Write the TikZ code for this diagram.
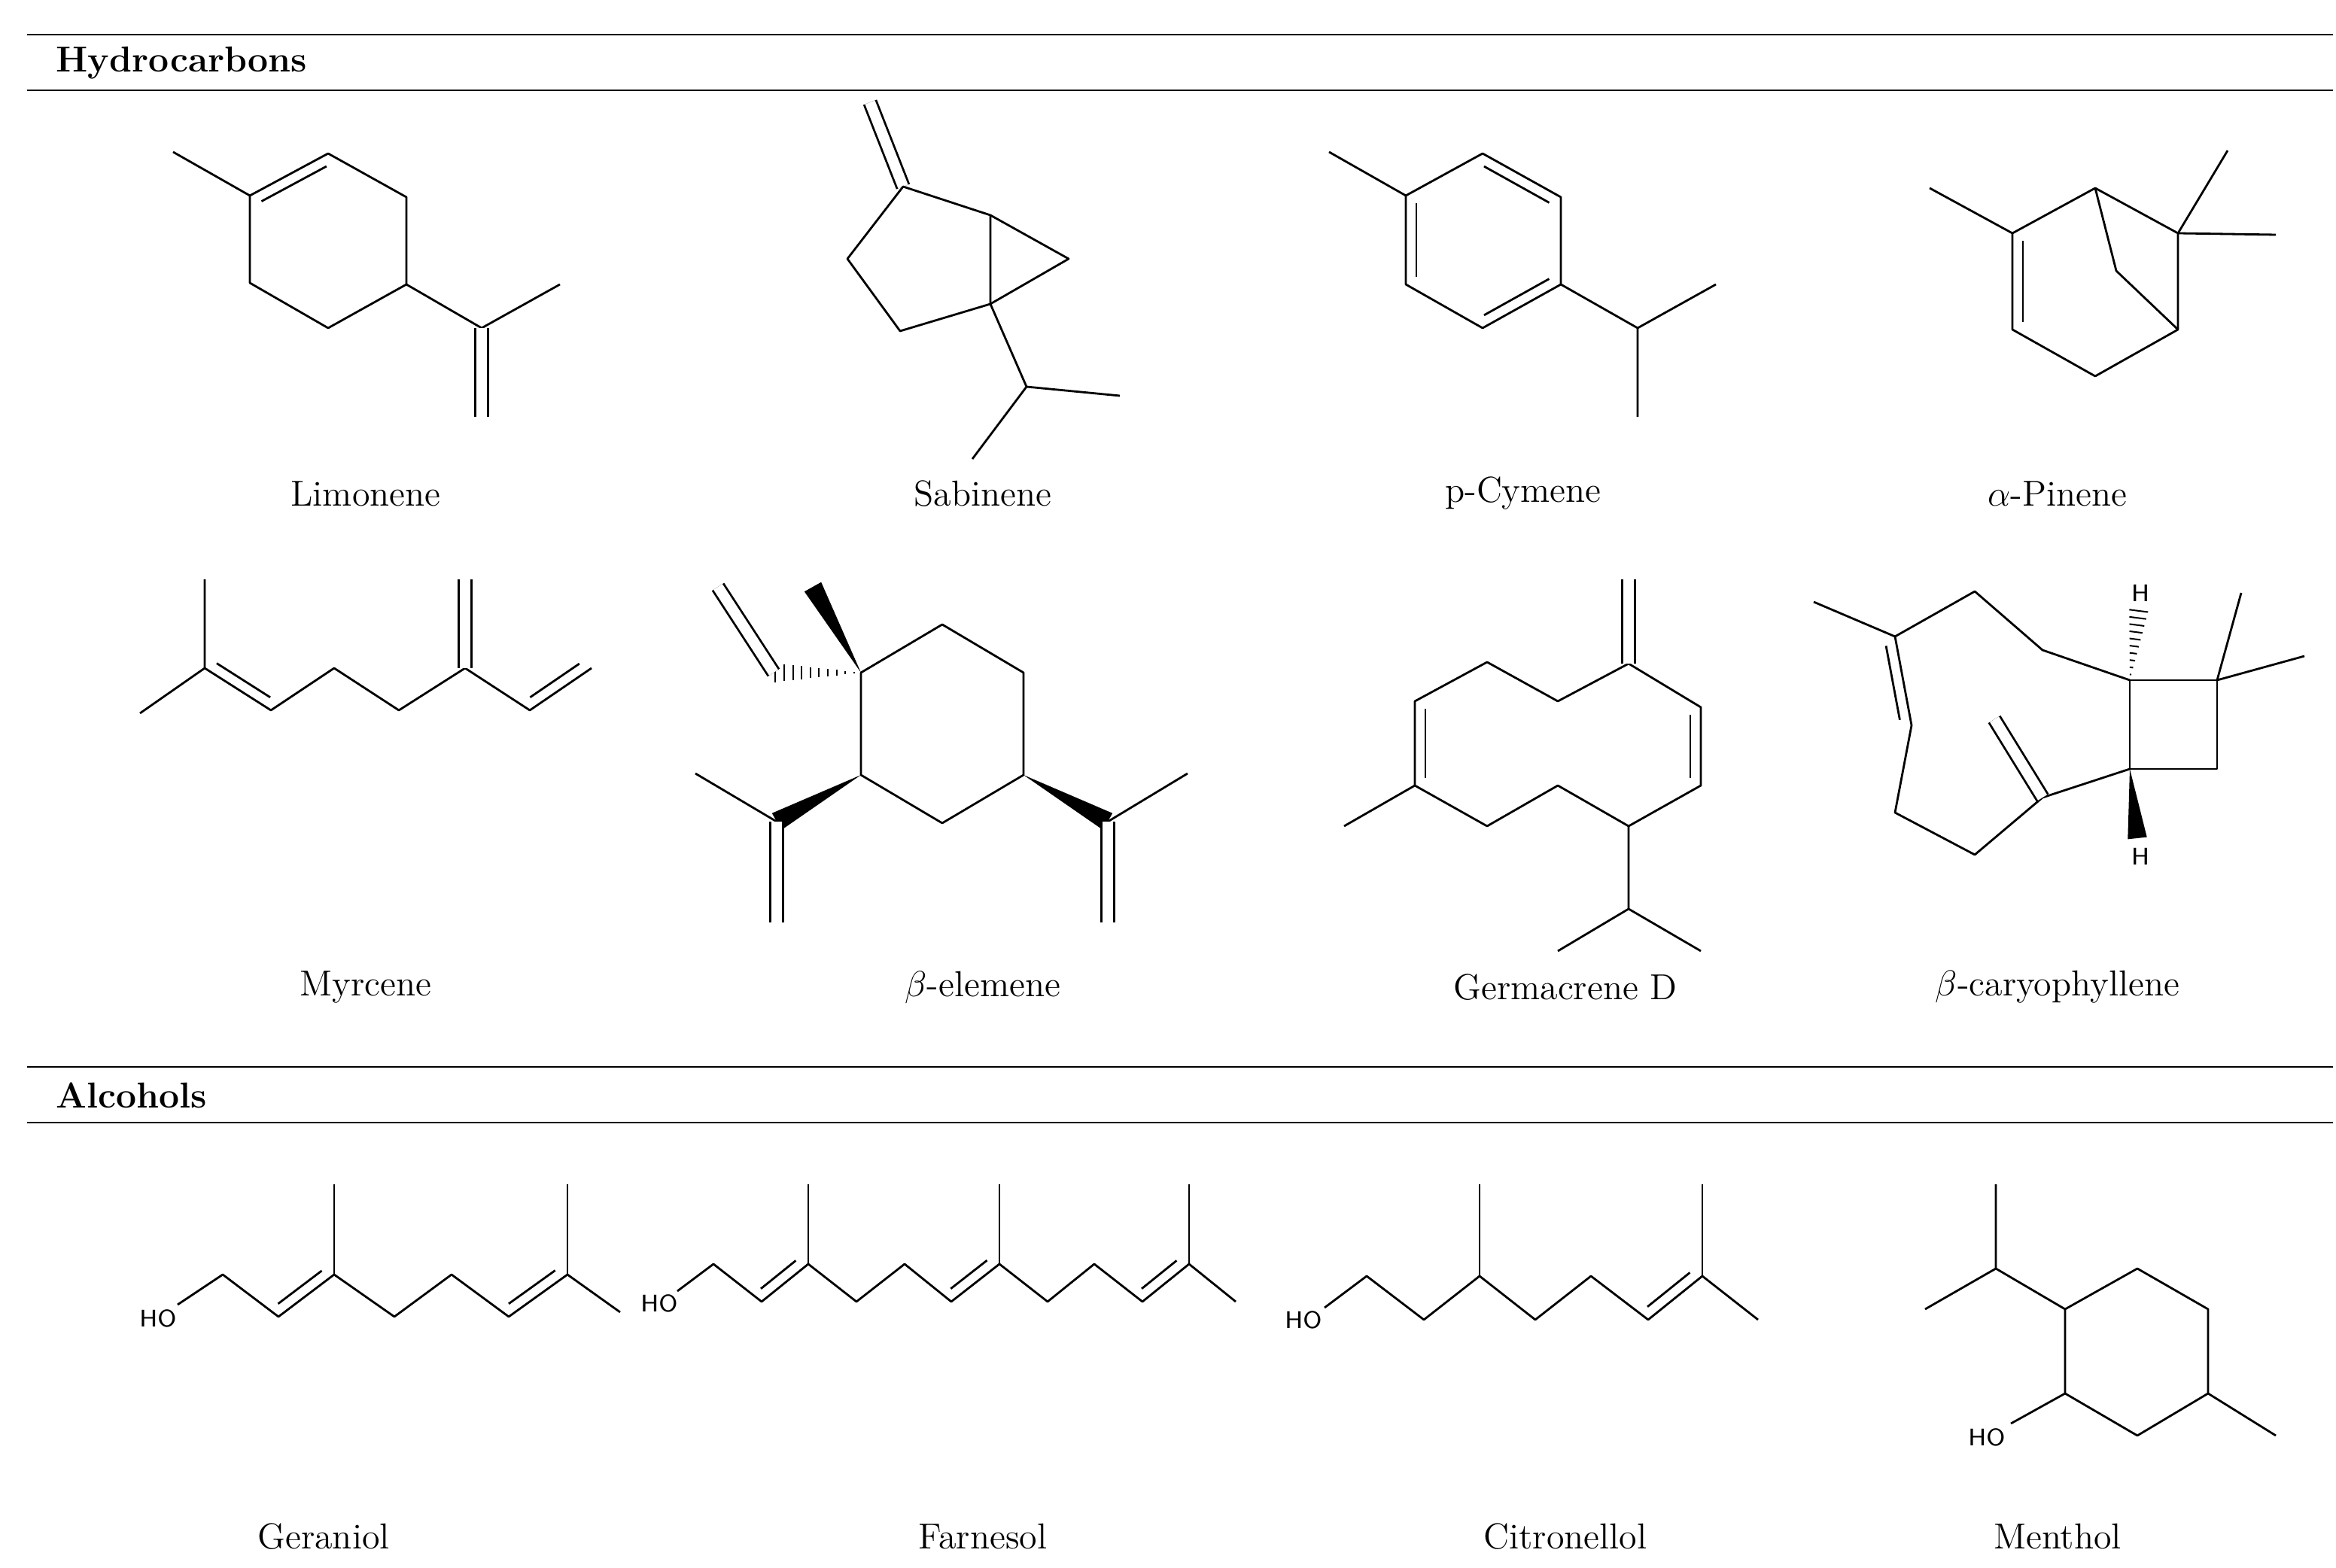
\documentclass[tikz,border=0pt]{standalone}
\usetikzlibrary{calc}
\newcommand\dbl[3]{\draw[shorten <=2.5pt,shorten >=2.5pt] ($(#1)!3.5pt!#3:(#2)$) -- ($(#2)!3.5pt!-#3:(#1)$);}
\newcommand\hashw[2]{\foreach \t [evaluate=\t as \w using \t*3.2] in {0.08,0.18,...,1.0}{\draw[line width=0.5pt] ($(#1)!\t!(#2)!\w pt!90:(#2)$) -- ($(#1)!\t!(#2)!\w pt!-90:(#2)$);}}
\newcommand\solw[2]{\fill (#1) -- ($(#2)!3.2pt!90:(#1)$) -- ($(#2)!3.2pt!-90:(#1)$) -- cycle;}
\begin{document}
\begin{tikzpicture}[x=0.5pt,y=-0.5pt,line width=0.7pt,line join=round,
  lbl/.style={font=\fontsize{12}{14}\selectfont},
  hdr/.style={font=\bfseries\fontsize{12}{14}\selectfont,anchor=west},
  at2/.style={font=\sffamily\fontsize{8}{9}\selectfont},
  dd/.style={double,double distance=3.5pt}]
\useasboundingbox (0,0) rectangle (1552,1042);
% headers
\draw[line width=0.5pt] (18,23)--(1550,23) (18,60)--(1550,60) (18,709)--(1550,709) (18,746)--(1550,746);
\node[hdr] (h1) at (30,42) {Hydrocarbons};
\node[hdr] (h2) at (30,728) {Alcohols};
% Limonene
\draw (115,101)--(166,130);
\draw (166,130)--(218,102)--(270,131)--(270,189)--(218,218)--(166,188)--cycle;
\dbl{166,130}{218,102}{-90}
\draw (270,189)--(320,218)--(372,189);
\draw[dd] (320,218)--(320,277);
% Sabinene
\draw[dd] (578,68)--(600,124);
\draw (600,124)--(563,172)--(598,220)--(658,202)--(658,143)--cycle;
\draw (658,143)--(710,172)--(658,202);
\draw (658,202)--(682,257)--(744,263) (682,257)--(646,305);
% p-Cymene
\draw (883,101)--(934,130);
\draw (934,130)--(985,102)--(1037,131)--(1037,189)--(985,218)--(934,189)--cycle;
\dbl{934,189}{934,130}{-90}
\dbl{985,102}{1037,131}{-90}
\dbl{1037,189}{985,218}{-90}
\draw (1037,189)--(1088,218)--(1140,189) (1088,218)--(1088,277);
% alpha-Pinene
\draw (1282,125)--(1337,155);
\draw (1337,155)--(1392,125)--(1447,155)--(1447,219)--(1392,250)--(1337,219)--cycle;
\dbl{1337,219}{1337,155}{-90}
\draw (1392,125)--(1406,180)--(1447,219);
\draw (1480,100)--(1447,155)--(1512,156);
% Myrcene
\draw (136,385)--(136,444) (93,474)--(136,444)--(180,472)--(222,444)--(265,472)--(309,444)--(352,472)--(393,444);
\dbl{136,444}{180,472}{90}
\dbl{352,472}{393,444}{90}
\draw[dd] (309,444)--(309,385);
% beta-elemene
\draw (572,447)--(626,415)--(680,447)--(680,515)--(626,547)--(572,515)--cycle;
\hashw{572,447}{514,447}
\draw[dd] (514,447)--(477,390);
\solw{572,447}{540,390}
\solw{572,515}{516,546}
\draw (516,546)--(462,514);
\draw[dd] (516,546)--(516,613);
\solw{680,515}{736,546}
\draw (736,546)--(789,514);
\draw[dd] (736,546)--(736,613);
% Germacrene D
\draw (1082,441)--(1130,470)--(1130,522)--(1082,549)--(1035,522)--(988,549)--(940,522)--(940,466)--(988,440)--(1035,466)--cycle;
\draw[dd] (1082,441)--(1082,385);
\dbl{1130,470}{1130,522}{-90}
\dbl{940,522}{940,466}{-90}
\draw (940,522)--(893,549);
\draw (1082,549)--(1082,604)--(1035,632) (1082,604)--(1130,632);
% beta-caryophyllene
\draw (1415,452)--(1473,452)--(1473,511)--(1415,511)--cycle;
\draw (1489,394)--(1473,452)--(1531,436);
\hashw{1415,452}{1421,405}
\node[at2] (hA) at (1422,394) {H};
\solw{1415,511}{1420,557}
\node[at2] (hB) at (1422,569) {H};
\draw (1415,452)--(1357,432)--(1312,393)--(1259,423)--(1270,482)--(1259,540)--(1312,568)--(1357,530)--(1415,511);
\draw (1259,423)--(1205,400);
\dbl{1259,423}{1270,482}{-90}
\draw[dd] (1357,530)--(1325,478);
% Geraniol
\node[at2] (ho1) at (105,876) {HO};
\draw (118,867)--(148,847)--(185,875)--(222,847)--(262,875)--(300,847)--(338,875)--(377,847)--(412,872);
\draw (222,847)--(222,787) (377,847)--(377,787);
\dbl{185,875}{222,847}{90}
\dbl{338,875}{377,847}{90}
% Farnesol
\node[at2] (ho2) at (438,866) {HO};
\draw (450,858)--(474,840)--(506,865)--(537,840)--(569,865)--(601,840)--(632,865)--(664,840)--(696,865)--(727,840)--(759,865)--(790,840)--(821,865);
\draw (537,840)--(537,787) (664,840)--(664,787) (790,840)--(790,787);
\dbl{506,865}{537,840}{90}
\dbl{632,865}{664,840}{90}
\dbl{759,865}{790,840}{90}
% Citronellol
\node[at2] (ho3) at (866,877) {HO};
\draw (880,869)--(908,848)--(946,877)--(983,848)--(1020,877)--(1057,848)--(1095,877)--(1131,848)--(1168,877);
\draw (983,848)--(983,787) (1131,848)--(1131,787);
\dbl{1095,877}{1131,848}{90}
% Menthol
\draw (1372,870)--(1420,843)--(1467,870)--(1467,926)--(1420,954)--(1372,926)--cycle;
\draw (1372,870)--(1326,843)--(1279,870) (1326,843)--(1326,787);
\draw (1467,926)--(1512,954);
\draw (1372,926)--(1336,946);
\node[at2] (ho4) at (1320,955) {HO};
% labels
\node[lbl] (l1) at (243,328) {Limonene};
\node[lbl] (l2) at (653,328) {Sabinene};
\node[lbl] (l3) at (1012,328) {p-Cymene};
\node[lbl] (l4) at (1367,328) {$\alpha$-Pinene};
\node[lbl] (l5) at (243,656) {Myrcene};
\node[lbl] (l6) at (653,656) {$\beta$-elemene};
\node[lbl] (l7) at (1040,656) {Germacrene D};
\node[lbl] (l8) at (1367,656) {$\beta$-caryophyllene};
\node[lbl] (l9) at (215,1021) {Geraniol};
\node[lbl] (l10) at (653,1021) {Farnesol};
\node[lbl] (l11) at (1040,1021) {Citronellol};
\node[lbl] (l12) at (1367,1021) {Menthol};
\end{tikzpicture}
\end{document}
